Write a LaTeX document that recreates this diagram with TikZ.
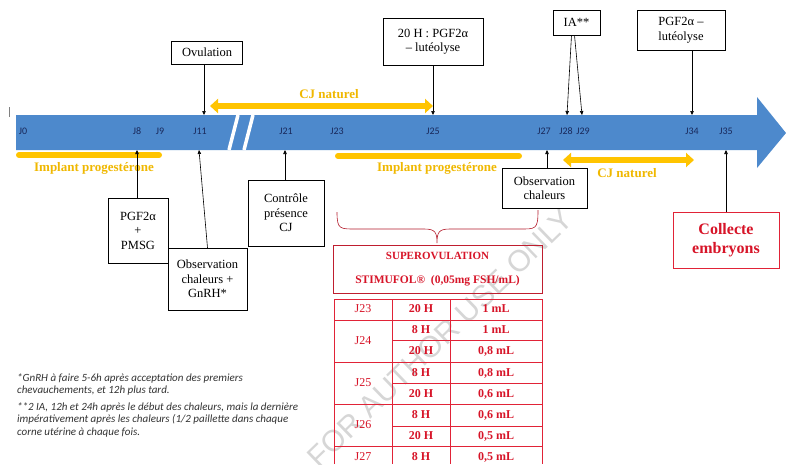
\documentclass[tikz,border=0pt]{standalone}
\usepackage{fontspec}
\setmainfont{Liberation Serif}
\newfontfamily\calib{Carlito}
\newfontfamily\wmfont{Liberation Sans}
\usetikzlibrary{arrows.meta}

\definecolor{arrowblue}{RGB}{77,137,204}
\definecolor{gold}{RGB}{255,196,0}
\definecolor{goldtxt}{RGB}{240,184,0}
\definecolor{daytxt}{RGB}{25,40,90}
\definecolor{redtxt}{RGB}{215,20,40}
\definecolor{redline}{RGB}{225,35,55}

\begin{document}
\begin{tikzpicture}[x=1pt,y=-1pt,
  box/.style={draw,fill=white,line width=0.5pt,align=center,inner sep=1pt,
    font=\fontsize{12.5}{14.5}\selectfont},
  day/.style={font=\calib\fontsize{10}{10}\selectfont,text=daytxt,inner sep=0pt},
  conn/.style={draw,line width=0.6pt,-{Triangle[length=4pt,width=3.5pt]}},
  ybar/.style={draw=gold,line width=6pt},
  ytip/.style={ybar,{Triangle[length=8pt,width=14pt]}-{Triangle[length=8pt,width=14pt]}},
  glab/.style={text=goldtxt,inner sep=0pt,font=\bfseries\fontsize{13}{13}\selectfont},
  cell/.style={text=redtxt,inner sep=0pt,font=\fontsize{12}{12}\selectfont},
  note/.style={anchor=north west,align=left,inner sep=0pt,text=black!80,
    font=\calib\itshape\fontsize{11}{12.5}\selectfont}]

\useasboundingbox (0,0) rectangle (786,464);
\fill[white] (0,0) rectangle (786,464);

% time line
\fill[arrowblue] (16,115) -- (757,115) -- (757,97) -- (786,133) -- (757,168)
  -- (757,150) -- (16,150) -- cycle;
\draw[white,line width=3.5pt] (229,150) -- (238,115);
\draw[white,line width=3.5pt] (244,150) -- (253,115);
\draw[black!50,line width=0.6pt] (9,107) -- (9,117);

\node[day] (j0) at (23,131) {J0};
\node[day] (j8) at (137,131) {J8};
\node[day] (j9) at (160,131) {J9};
\node[day] (j11) at (200,131) {J11};
\node[day] (j21) at (286,131) {J21};
\node[day] (j23) at (337,131) {J23};
\node[day] (j25) at (433,131) {J25};
\node[day] (j27) at (544,131) {J27};
\node[day] (j28) at (566,131) {J28};
\node[day] (j29) at (583,131) {J29};
\node[day] (j34) at (692,131) {J34};
\node[day] (j35) at (726,131) {J35};

\coordinate (t11) at (204,115);
\coordinate (t25) at (433,115);
\coordinate (t28) at (567,115);
\coordinate (t29) at (582,115);
\coordinate (t34) at (692,115);
\coordinate (b8) at (137,150);
\coordinate (b11) at (199,150);
\coordinate (b21) at (285,150);
\coordinate (b27) at (547,150);
\coordinate (b35) at (726,150);

% periods
\draw[ytip] (210,106) -- (433,106);
\node[glab] (cj1) at (329,94) {CJ naturel};
\draw[ybar,line cap=round] (19,155) -- (159,155);
\node[glab] (imp1) at (94,168) {Implant progestérone};
\draw[ybar,line cap=round] (338,156) -- (519,156);
\node[glab] (imp2) at (437,168) {Implant progestérone};
\draw[ytip] (563,160) -- (694,160);
\node[glab] (cj2) at (627,173) {CJ naturel};

% watermark
\node[rotate=44,text=black!16,font=\wmfont\fontsize{30}{30}\selectfont] (wm) at (440,338)
  {FOR AUTHOR USE ONLY};

% events
\node[box,minimum width=71pt,minimum height=23pt] (ovul) at (207,52.5) {Ovulation};
\node[box,minimum width=100pt,minimum height=47pt] (pgfa) at (433,41.5)
  {20 H : PGF2α\\– lutéolyse};
\node[box,minimum width=47pt,minimum height=25pt] (ia) at (576.5,22.5) {IA**};
\node[box,minimum width=88pt,minimum height=40pt] (pgfb) at (681,30)
  {PGF2α –\\lutéolyse};
\node[box,minimum width=60pt,minimum height=65pt] (pmsg) at (138,230.5)
  {PGF2α\\+\\PMSG};
\node[box,minimum width=79pt,minimum height=62pt] (obsa) at (207.5,279)
  {Observation\\chaleurs +\\GnRH*};
\node[box,minimum width=76pt,minimum height=66pt] (ctrl) at (286,213)
  {Contrôle\\présence\\CJ};
\node[box,minimum width=85pt,minimum height=40pt] (obsb) at (544.5,188)
  {Observation\\chaleurs};
\node[box,draw=redline,line width=0.8pt,text=redtxt,minimum width=106pt,
  minimum height=56pt,font=\bfseries\fontsize{16}{19}\selectfont] (coll) at (726,240)
  {Collecte\\embryons};

\draw[conn] (t11 |- ovul.south) -- (t11);
\draw[conn] (t25 |- pgfa.south) -- (t25);
\draw[conn] ([xshift=-5pt]ia.south) -- (t28);
\draw[conn] ([xshift=-2pt]ia.south) -- (t29);
\draw[conn] (t34 |- pgfb.south) -- (t34);
\draw[conn] (b8 |- pmsg.north) -- (b8);
\draw[conn] (obsa.north) -- (b11);
\draw[conn] (b21 |- ctrl.north) -- (b21);
\draw[conn] (b27 |- obsb.north) -- (b27);
\draw[conn] (b35 |- coll.north) -- (b35);

% superovulation
\draw[redline!80!black,line width=0.6pt] (337,212) .. controls (337,230) and (340,229) .. (358,229)
  -- (424,229) .. controls (435,229) and (437,232) .. (437,243)
  .. controls (437,232) and (439,229) .. (450,229) -- (518,229)
  .. controls (536,229) and (538,230) .. (538,210);
\draw[redline!85!black,line width=0.8pt] (333,245) rectangle (542,293);
\node[cell,font=\bfseries\fontsize{11}{11}\selectfont] (sov) at (437.5,256) {SUPEROVULATION};
\node[cell,font=\bfseries\fontsize{11.5}{11.5}\selectfont] (stim) at (437.5,281)
  {STIMUFOL®~~(0,05mg~FSH/mL)};

\draw[redline,line width=1pt] (334,464) -- (334,299) -- (542,299) -- (542,464);
\draw[redline,line width=1pt] (392,299) -- (392,464) (450,299) -- (450,464);
\foreach \y in {320,362,404,446}
  \draw[redline,line width=1pt] (334,\y) -- (542,\y);
\foreach \y in {340,383,426}
  \draw[redline,line width=1pt] (392,\y) -- (542,\y);

\foreach \j/\y in {J23/309,J24/341,J25/383,J26/425,J27/457}
  \node[cell] at (363,\y) {\j};
\foreach \y/\h/\v in {309/20 H/1 mL,330/8 H/1 mL,351/20 H/{0,8 mL},
    373/8 H/{0,8 mL},394/20 H/{0,6 mL},415/8 H/{0,6 mL},436/20 H/{0,5 mL},457/8 H/{0,5 mL}}{
  \node[cell,font=\bfseries\fontsize{12}{12}\selectfont] at (421,\y) {\h};
  \node[cell,font=\bfseries\fontsize{12}{12}\selectfont] at (496,\y) {\v};
}

% notes
\node[note] (fn1) at (17,373) {*GnRH à faire 5-6h après acceptation des premiers\\
  chevauchements, et 12h plus tard.};
\node[note] (fn2) at (17,402) {**2 IA, 12h et 24h après le début des chaleurs, mais la dernière\\
  impérativement après les chaleurs (1/2 paillette dans chaque\\
  corne utérine à chaque fois.};
\end{tikzpicture}
\end{document}
